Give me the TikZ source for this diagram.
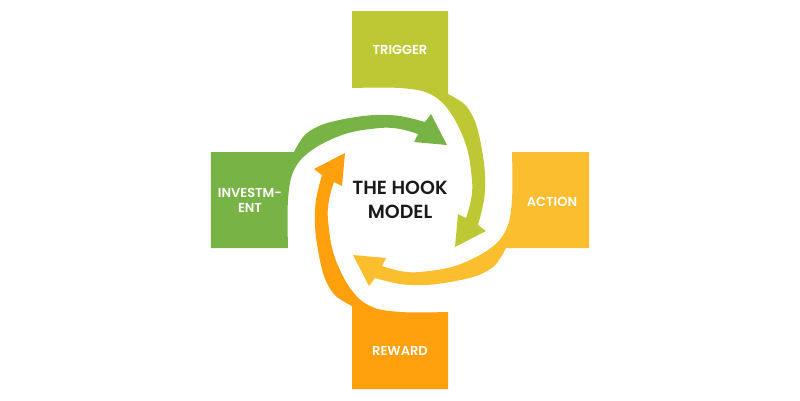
\documentclass[tikz,border=0pt]{standalone}
\usepackage{fontspec}
\setmainfont{Poppins}[UprightFont={* Medium}, BoldFont={* SemiBold}]
\definecolor{ctrig}{RGB}{190,200,52}
\definecolor{cact}{RGB}{251,190,46}
\definecolor{crew}{RGB}{255,160,12}
\definecolor{cinv}{RGB}{120,179,70}
\definecolor{ctext}{RGB}{26,26,26}
\newcommand\hookquadrant[2]{%
  \begin{scope}[rotate=#1]
    \fill[#2] (-48,189) -- (48,189) -- (48,106)
      -- plot[smooth, tension=0.6] coordinates {(48,106) (57,101) (67,93) (76,76) (82,50) (85,25) (84,0) (78,-25)}
      -- (86,-31) -- (55,-47) -- (58,-14)
      -- plot[smooth, tension=0.6] coordinates {(66,-18) (71,0) (72,20) (66,55) (50,88) (30,106) (0,112) (-48,112)}
      -- cycle;
  \end{scope}}
\tikzset{
  lab/.style={text=white, font=\fontsize{13}{15}\selectfont\bfseries, align=center, inner sep=0pt},
  hooktext/.style={text=ctext, font=\fontsize{19}{24}\selectfont\bfseries, align=center, inner sep=0pt}
}
\begin{document}
\begin{tikzpicture}[x=1pt,y=1pt]
  \useasboundingbox (-400,-200) rectangle (400,200);
  \fill[white] (-400,-200) rectangle (400,200);
  \hookquadrant{0}{ctrig}
  \hookquadrant{-90}{cact}
  \hookquadrant{-180}{crew}
  \hookquadrant{-270}{cinv}
  \node[lab] (trig) at (0,150) {TRIGGER};
  \node[lab] (act) at (152,-2) {ACTION};
  \node[lab] (rew) at (0,-151) {REWARD};
  \node[lab] (inv) at (-150,0) {INVESTM-\\ENT};
  \node[hooktext] (hook) at (0,0) {THE HOOK\\MODEL};
\end{tikzpicture}
\end{document}
